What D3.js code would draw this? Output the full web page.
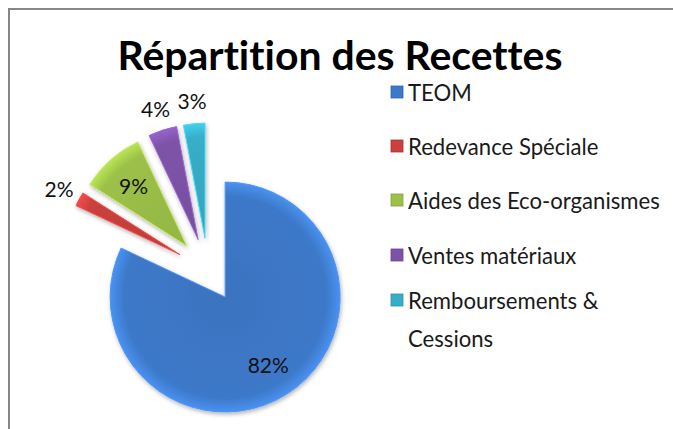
<!DOCTYPE html>
<html><head><meta charset="utf-8">
<script src="https://cdn.jsdelivr.net/npm/d3@7"></script>
<style>html,body{margin:0;padding:0;background:#fff;}svg{display:block;}text{font-variant-ligatures:none;font-feature-settings:"liga" 0,"clig" 0;}</style>
</head><body>
<svg id="c" width="673" height="429"></svg>
<script>
const title = "Répartition des Recettes";
const categories = ["TEOM", "Redevance Spéciale", "Aides des Eco-organismes", "Ventes matériaux", "Remboursements & Cessions"];
const values = [82, 2, 9, 4, 3];
const labels = ["82%", "2%", "9%", "4%", "3%"];
const colors = ["#3D79C9", "#C9403C", "#9CC048", "#7D53A8", "#37AEC8"];
const legendLines = [["TEOM"], ["Redevance Spéciale"], ["Aides des Eco-organismes"], ["Ventes matériaux"], ["Remboursements &", "Cessions"]];

const svg = d3.select("#c");
const FONT = "Lato, 'Open Sans', sans-serif";

// frame
svg.append("rect").attr("x", 9).attr("y", 9).attr("width", 700).attr("height", 450)
  .attr("fill", "#fff").attr("stroke", "#868686").attr("stroke-width", 2);

function fit(sel, target) {
  const w = sel.node().getComputedTextLength();
  const fs = parseFloat(sel.attr("font-size"));
  sel.attr("font-size", fs * target / w);
}

// title
const t = svg.append("text").attr("x", 340).attr("y", 70).attr("text-anchor", "middle")
  .attr("font-family", FONT).attr("font-weight", "bold").attr("font-size", 40).attr("fill", "#000").text(title);
fit(t, 445);

const defs = svg.append("defs");
colors.forEach((c, i) => {
  const g = defs.append("radialGradient").attr("id", "g" + i)
    .attr("gradientUnits", "userSpaceOnUse").attr("cx", 0).attr("cy", 0).attr("r", 115);
  g.append("stop").attr("offset", "0%").attr("stop-color", d3.color(c).darker(0.15));
  g.append("stop").attr("offset", "88%").attr("stop-color", c);
  g.append("stop").attr("offset", "100%").attr("stop-color", d3.color(c).brighter(0.5));
});
const sh = defs.append("filter").attr("id", "sh").attr("x", "-20%").attr("y", "-20%").attr("width", "140%").attr("height", "140%");
sh.append("feDropShadow").attr("dx", 1).attr("dy", 2).attr("stdDeviation", 2).attr("flood-color", "#000").attr("flood-opacity", 0.3);

const cx = 208, cy = 270, R = 115, explode = 32;
const pie = d3.pie().sort(null).value(d => d)(values);
const arc = d3.arc().innerRadius(0).outerRadius(R);

const g = svg.append("g").attr("transform", `translate(${cx},${cy})`);
pie.forEach((p, i) => {
  const mid = (p.startAngle + p.endAngle) / 2;
  const ox = Math.sin(mid) * explode, oy = -Math.cos(mid) * explode;
  const sg = g.append("g").attr("transform", `translate(${ox},${oy})`);
  sg.append("path").attr("d", arc(p)).attr("fill", `url(#g${i})`)
    .attr("stroke", d3.color(colors[i]).brighter(0.6)).attr("stroke-width", 1)
    .attr("filter", "url(#sh)");
  const lr = values[i] >= 5 ? R * 0.7 : R * 1.2;
  sg.append("text").attr("x", Math.sin(mid) * lr).attr("y", -Math.cos(mid) * lr)
    .attr("text-anchor", "middle").attr("dominant-baseline", "central")
    .attr("font-family", FONT).attr("font-size", 21).attr("fill", "#111").text(labels[i]);
});

// legend
const rowY = [[92], [146], [200], [255], [300, 338]];
const lg = svg.append("g");
const texts = [];
categories.forEach((c, i) => {
  lg.append("rect").attr("x", 391).attr("y", rowY[i][0] - 6).attr("width", 12).attr("height", 12)
    .attr("fill", colors[i]).attr("stroke", d3.color(colors[i]).darker(0.5)).attr("stroke-width", 0.8);
  legendLines[i].forEach((ln, j) => {
    texts.push(lg.append("text").attr("x", 408).attr("y", rowY[i][j]).attr("dominant-baseline", "central")
      .attr("font-family", FONT).attr("font-size", 19).attr("fill", "#1a1a1a").text(ln));
  });
});
const ref = texts[2];
const w = ref.node().getComputedTextLength();
const fs = 19 * 252 / w;
texts.forEach(s => s.attr("font-size", fs));
</script>
</body></html>
